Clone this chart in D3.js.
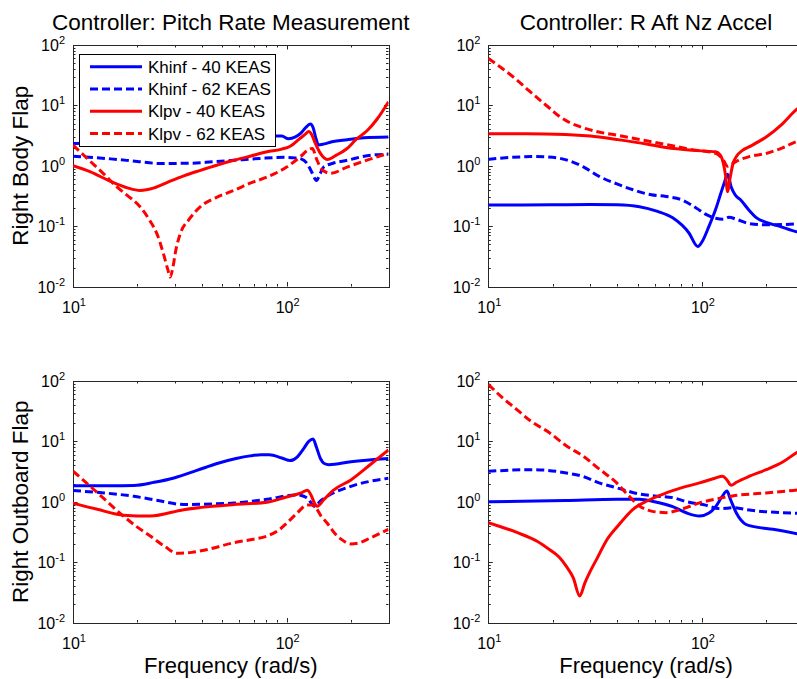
<!DOCTYPE html>
<html lang="en">
<head>
<meta charset="UTF-8">
<script src="https://d3js.org/d3.v7.min.js"></script>
<title>controller bode</title>
<style>
  body { margin: 0; background: #fff; }
  svg { display: block; font-family: "Liberation Sans", Arial, sans-serif; }
</style>
</head>
<body>
<div id="chart"></div>
<script>
// ---- data ----
const freqDomain = [10, 300];
const magDomain = [0.01, 100];
const xTicks = [10, 100];
const yTicks = [0.01, 0.1, 1, 10, 100];
const seriesNames = ["Khinf - 40 KEAS", "Khinf - 62 KEAS", "Klpv - 40 KEAS", "Klpv - 62 KEAS"];
const colTitles = ["Controller: Pitch Rate Measurement", "Controller: R Aft Nz Accel"];
const rowLabels = ["Right Body Flap", "Right Outboard Flap"];
const xLabel = "Frequency (rad/s)";

// pitch rate -> right body flap  [rad/s, magnitude]
const pitchBodyKhinf40 = [[10,2.33],[15,2.4],[20,2.5],[30,2.6],[45,2.75],[60,2.85],[75,3.0],[88,3.1],[95,3.1],[102,2.8],[110,3.0],[117,3.5],[123,4.3],[129,4.9],[133,4.3],[137,2.9],[141,2.2],[150,2.3],[163,2.5],[192,2.7],[230,2.9],[300,3.0]];
const pitchBodyKhinf62 = [[10,1.44],[15,1.3],[20,1.18],[25.6,1.09],[35,1.1],[45,1.16],[56.6,1.23],[75,1.32],[97,1.38],[110,1.35],[117,1.3],[125,1.08],[132,0.75],[138,0.57],[143,0.72],[149,0.95],[165,1.1],[192,1.23],[248,1.5],[300,1.55]];
const pitchBodyKlpv40 = [[10,1.0],[12,0.8],[15,0.55],[18,0.43],[20.6,0.39],[24,0.43],[28,0.54],[33,0.68],[39.5,0.84],[47,1.02],[56.6,1.23],[68,1.45],[81,1.7],[94,1.87],[104,2.1],[115,2.8],[122,3.3],[127,3.7],[131,3.3],[136,2.4],[144,1.6],[155,1.27],[171,1.5],[192,1.93],[211,2.7],[240,3.9],[266,6.0],[300,11.5]];
const pitchBodyKlpv62 = [[10,2.2],[12,1.2],[14,0.72],[16,0.45],[18,0.32],[20.6,0.21],[23,0.12],[24.7,0.075],[26.5,0.035],[27.8,0.019],[28.5,0.0143],[29.3,0.02],[30.3,0.04],[31.8,0.075],[35,0.13],[39.5,0.21],[47,0.3],[56.6,0.39],[68,0.52],[81,0.65],[100,0.95],[117,1.45],[127,1.87],[132,1.93],[138,1.3],[147,0.85],[161,0.75],[192,0.95],[248,1.3],[300,1.6]];

// R aft Nz accel -> right body flap
const accelBodyKhinf40 = [[10,0.224],[20,0.225],[30,0.228],[40,0.225],[51,0.21],[62,0.175],[73,0.137],[87,0.077],[95.6,0.046],[101,0.058],[108,0.1],[116,0.19],[122,0.33],[127,0.51],[132,0.72],[137,0.45],[143,0.33],[152,0.27],[167,0.18],[179,0.14],[200,0.115],[230,0.1],[276,0.081],[300,0.077]];
const accelBodyKhinf62 = [[10,1.28],[13,1.38],[16.2,1.42],[20,1.38],[23.2,1.25],[28,0.95],[33.2,0.66],[40,0.5],[47.6,0.4],[58,0.33],[68,0.31],[81,0.27],[94,0.2],[105,0.155],[116,0.135],[126,0.13],[134,0.14],[145,0.13],[167,0.11],[200,0.105],[300,0.11]];
const accelBodyKlpv40 = [[10,3.4],[15,3.4],[23,3.3],[30,3.1],[40,2.72],[55,2.3],[68,2.0],[90,1.8],[116,1.7],[122,1.5],[126,1.1],[129,0.7],[132,0.37],[135,0.58],[140,1.1],[145,1.42],[155,1.8],[167,2.07],[200,3.0],[239,5.0],[276,8.4],[300,10.5]];
const accelBodyKlpv62 = [[10,60],[11.5,42],[13.6,26.4],[15.5,17.5],[17.4,12.3],[19.5,8.8],[21.6,6.5],[24,5.2],[26.8,4.45],[32,3.7],[40,3.2],[55,2.6],[68,2.25],[90,1.85],[116,1.6],[125,1.3],[132,0.98],[140,1.1],[150,1.25],[167,1.42],[200,1.6],[240,2.0],[276,2.5],[300,2.7]];

// pitch rate -> right outboard flap
const pitchOutKhinf40 = [[10,1.84],[15,1.84],[19.3,1.86],[24,2.1],[29.7,2.48],[38,3.3],[47.3,4.3],[58,5.2],[67.5,5.75],[76,6.0],[83,6.0],[95,5.3],[104,4.8],[112,5.5],[120,7.5],[127,10],[133,10.9],[138,8],[144,5.2],[150,4.3],[158,4.1],[200,4.6],[300,5.2]];
const pitchOutKhinf62 = [[10,1.53],[14,1.4],[19.3,1.23],[25,1.05],[33,0.9],[45,0.92],[56.7,0.95],[81,1.1],[112,1.3],[125,1.15],[135,0.84],[145,1.05],[155,1.23],[200,1.8],[300,2.45]];
const pitchOutKlpv40 = [[10,0.95],[13,0.75],[17.2,0.6],[23,0.58],[33,0.74],[45,0.84],[57,0.9],[81,0.98],[100,1.2],[117,1.4],[125,1.55],[130,1.3],[135,0.95],[139,0.84],[150,1.1],[166,1.56],[200,2.3],[246,4.1],[300,7.2]];
const pitchOutKlpv62 = [[10,3.2],[11,2.4],[13.5,1.25],[17.3,0.57],[20,0.38],[23,0.27],[27,0.18],[30.7,0.14],[36,0.145],[42,0.16],[56.7,0.21],[70,0.24],[81,0.27],[92,0.34],[100,0.44],[112,0.65],[125,0.88],[132,0.88],[137,0.8],[145,0.58],[155,0.44],[168,0.3],[180,0.24],[200,0.2],[220,0.21],[246,0.25],[300,0.35]];

// R aft Nz accel -> right outboard flap
const accelOutKhinf40 = [[10,1.0],[23,1.05],[40,1.1],[51,1.1],[60,1.0],[73,0.83],[85,0.65],[97.5,0.58],[108,0.65],[116,0.83],[124,1.2],[131,1.5],[136,1.1],[145,0.65],[161,0.42],[180,0.38],[215,0.35],[300,0.28]];
const accelOutKhinf62 = [[10,3.2],[16.2,3.4],[23.2,3.0],[28,2.6],[33,2.05],[40,1.7],[51,1.34],[60,1.25],[73,1.17],[85,1.0],[104,0.88],[120,0.77],[130,0.78],[140,0.8],[170,0.72],[300,0.64]];
const accelOutKlpv40 = [[10,0.45],[13.6,0.31],[17,0.22],[19.4,0.16],[21.5,0.12],[23.2,0.085],[25,0.055],[26.8,0.0275],[28.3,0.045],[29.8,0.067],[32.5,0.12],[35.8,0.23],[40.5,0.4],[47.6,0.75],[56,1.05],[68,1.4],[80,1.7],[97.5,2.05],[115,2.45],[125,2.65],[131,2.3],[137,1.87],[145,2.1],[167,2.65],[200,3.4],[240,4.6],[276,6.4],[300,7.5]];
const accelOutKlpv62 = [[10,88],[11.5,55],[13.6,33.6],[16,21],[19.4,13.8],[23,8.6],[27.8,5.7],[33,3.5],[39.8,2.07],[45,1.3],[51,0.85],[58,0.7],[68,0.66],[80,0.75],[97.5,0.96],[115,1.1],[139,1.25],[200,1.4],[300,1.6]];

// line styles per series (same order as seriesNames)
const seriesColor = ["#0000ff", "#0000ff", "#ff0000", "#ff0000"];
const seriesDash = [null, "8,4", null, "8,4"];

const panels = [
    { col: 0, row: 0, series: [pitchBodyKhinf40, pitchBodyKhinf62, pitchBodyKlpv40, pitchBodyKlpv62] },
    { col: 1, row: 0, series: [accelBodyKhinf40, accelBodyKhinf62, accelBodyKlpv40, accelBodyKlpv62] },
    { col: 0, row: 1, series: [pitchOutKhinf40, pitchOutKhinf62, pitchOutKlpv40, pitchOutKlpv62] },
    { col: 1, row: 1, series: [accelOutKhinf40, accelOutKhinf62, accelOutKlpv40, accelOutKlpv62] }
];

// ---- layout ----
const width = 797, height = 679;
const colX = [73, 488.3];
const rowY = [45, 381];
const plotW = 315.5, plotH = 241.5;

const svg = d3.select("#chart").append("svg")
    .attr("width", width)
    .attr("height", height);

const line = d3.line().curve(d3.curveMonotoneX);

function tickLabel(sel, exp) {
    sel.append("tspan").text("10");
    sel.append("tspan").attr("dy", -7).attr("font-size", 11).text(exp);
}

panels.forEach((p, pi) => {
    const x0 = colX[p.col], y0 = rowY[p.row];
    const x = d3.scaleLog().domain(freqDomain).range([x0, x0 + plotW]);
    const y = d3.scaleLog().domain(magDomain).range([y0 + plotH, y0]);

    const g = svg.append("g");

    // clip
    svg.append("clipPath").attr("id", `clip-${pi}`)
        .append("rect")
        .attr("x", x0).attr("y", y0)
        .attr("width", plotW).attr("height", plotH);

    // minor + major ticks
    const xMinor = [];
    for (let d = 10; d <= 100; d *= 10)
        for (let m = 2; m <= 9; m++) if (d * m <= freqDomain[1]) xMinor.push(d * m);
    const yMinor = [];
    for (let d = 0.01; d < 100; d *= 10)
        for (let m = 2; m <= 9; m++) yMinor.push(d * m);

    const tg = g.append("g").attr("stroke", "#262626").attr("stroke-width", 1);
    const yb = y0 + plotH, xr = x0 + plotW;
    xMinor.forEach(f => {
        const px = Math.round(x(f)) + 0.5;
        tg.append("line").attr("x1", px).attr("x2", px).attr("y1", yb).attr("y2", yb - 2.5);
        tg.append("line").attr("x1", px).attr("x2", px).attr("y1", y0).attr("y2", y0 + 2.5);
    });
    xTicks.forEach(f => {
        const px = Math.round(x(f)) + 0.5;
        tg.append("line").attr("x1", px).attr("x2", px).attr("y1", yb).attr("y2", yb - 4.5);
        tg.append("line").attr("x1", px).attr("x2", px).attr("y1", y0).attr("y2", y0 + 4.5);
    });
    yMinor.forEach(v => {
        const py = Math.round(y(v)) + 0.5;
        tg.append("line").attr("x1", x0).attr("x2", x0 + 2.5).attr("y1", py).attr("y2", py);
        tg.append("line").attr("x1", xr).attr("x2", xr - 2.5).attr("y1", py).attr("y2", py);
    });
    yTicks.forEach(v => {
        const py = Math.round(y(v)) + 0.5;
        tg.append("line").attr("x1", x0).attr("x2", x0 + 4.5).attr("y1", py).attr("y2", py);
        tg.append("line").attr("x1", xr).attr("x2", xr - 4.5).attr("y1", py).attr("y2", py);
    });

    // box
    g.append("rect")
        .attr("x", Math.round(x0) + 0.5).attr("y", Math.round(y0) + 0.5)
        .attr("width", Math.round(plotW)).attr("height", Math.round(plotH))
        .attr("fill", "none").attr("stroke", "#262626").attr("stroke-width", 1);

    // tick labels
    yTicks.forEach(v => {
        const t = g.append("text")
            .attr("x", x0 - 8).attr("y", y(v) + 6)
            .attr("text-anchor", "end")
            .attr("font-size", 16);
        tickLabel(t, String(Math.round(Math.log10(v))));
    });
    xTicks.forEach(f => {
        const t = g.append("text")
            .attr("x", x(f) + 1).attr("y", yb + 26)
            .attr("text-anchor", "middle")
            .attr("font-size", 16);
        tickLabel(t, String(Math.round(Math.log10(f))));
    });

    // data
    const dg = g.append("g").attr("clip-path", `url(#clip-${pi})`);
    p.series.forEach((s, si) => {
        dg.append("path")
            .attr("d", line(s.map(d => [x(d[0]), y(d[1])])))
            .attr("fill", "none")
            .attr("stroke", seriesColor[si])
            .attr("stroke-width", 3)
            .attr("stroke-dasharray", seriesDash[si])
            .attr("stroke-linejoin", "round");
    });

    // titles / labels
    if (p.row === 0) {
        g.append("text")
            .attr("x", x0 + plotW / 2).attr("y", 30)
            .attr("text-anchor", "middle")
            .attr("font-size", 22.5)
            .text(colTitles[p.col]);
    } else {
        g.append("text")
            .attr("x", x0 + plotW / 2).attr("y", 673)
            .attr("text-anchor", "middle")
            .attr("font-size", 22)
            .text(xLabel);
    }
    if (p.col === 0) {
        g.append("text")
            .attr("transform", `translate(28,${y0 + plotH / 2}) rotate(-90)`)
            .attr("text-anchor", "middle")
            .attr("font-size", 22.5)
            .text(rowLabels[p.row]);
    }

    // legend in first panel
    if (pi === 0) {
        const lg = g.append("g");
        lg.append("rect")
            .attr("x", 79.5).attr("y", 54.5)
            .attr("width", 196).attr("height", 92)
            .attr("fill", "#fff").attr("stroke", "#000").attr("stroke-width", 1);
        seriesNames.forEach((name, i) => {
            const ly = 66.7 + i * 22.3;
            lg.append("line")
                .attr("x1", 90).attr("x2", 142)
                .attr("y1", ly).attr("y2", ly)
                .attr("stroke", seriesColor[i])
                .attr("stroke-width", 3)
                .attr("stroke-dasharray", seriesDash[i]);
            lg.append("text")
                .attr("x", 148).attr("y", ly + 6)
                .attr("font-size", 17)
                .text(name);
        });
    }
});
</script>
</body>
</html>
